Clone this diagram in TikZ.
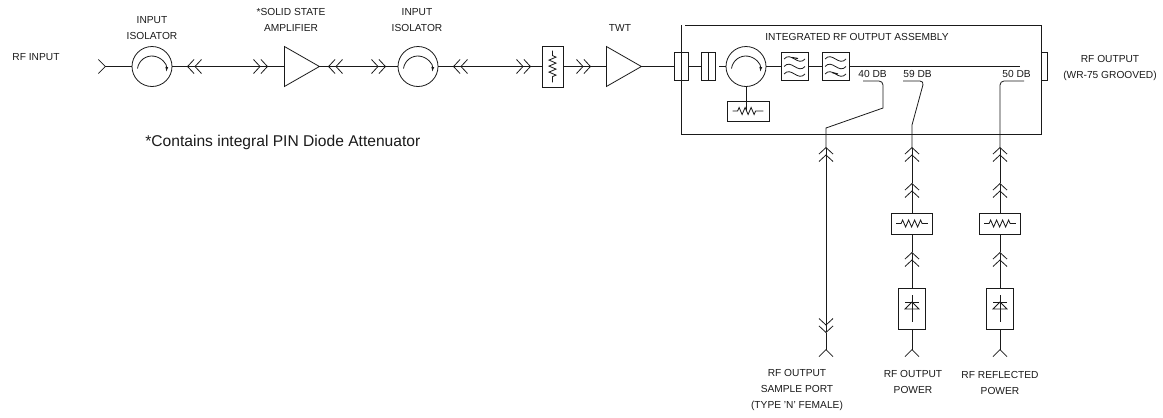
\documentclass[tikz,border=0pt]{standalone}
\usepackage{fontspec}
\setmainfont{Liberation Sans}
\usepackage{xcolor}
\usetikzlibrary{arrows.meta,positioning,calc,shapes.geometric,decorations.pathmorphing,decorations.pathreplacing}
\definecolor{tinta}{HTML}{1A1A1A}
\tikzset{
  dob/.tip={Straight Barb[length=6.5pt,width=14pt,sep=0pt] Straight Barb[length=6.5pt,width=14pt,sep=0pt]},
  uno/.tip={Straight Barb[length=7pt,width=14pt,reversed]}
}
\begin{document}
\begin{tikzpicture}[x=1pt,y=-1pt,line width=0.8pt,tinta,
  lab/.style={inner sep=0pt,align=center,font=\fontsize{10.2}{16}\selectfont},
  dbl/.style={inner sep=0pt,font=\fontsize{10.2}{10}\selectfont},
  circu/.style={draw,circle,inner sep=0pt,minimum size=40pt},
  amp/.style={draw,isosceles triangle,isosceles triangle stretches,inner sep=0pt,minimum width=40pt,minimum height=35pt,anchor=lower side},
  caja/.style={draw,rectangle,inner sep=0pt},
  resis/.style={decorate,decoration={zigzag,amplitude=3.5pt,segment length=6pt,pre length=5pt,post length=5pt}}]
  \useasboundingbox (0,0) rectangle (1163,418);

  % main line
  \coordinate (rfin) at (98,66.5);
  \foreach \n/\x in {iso1/152,iso2/418,cir/746} {
   \node[circu] (\n) at (\x,66.5) {};
   \draw[-{Latex[length=5pt,width=3pt]}] ([shift={(-14.5,2)}]\n.center) arc[radius=14.5pt,start angle=172,end angle=-6];
  }
  \node[amp] (ssa) at (284,66.5) {};
  \node[amp] (twt) at (606,66.5) {};
  \node[caja,minimum width=21pt,minimum height=41pt] (atn) at (552.5,66.5) {};
  \draw[resis] ([yshift=-5pt]atn.north) -- ([yshift=5pt]atn.south);
  \coordinate (j1) at (187,66.5); \coordinate (j2) at (268,66.5);
  \coordinate (j3) at (328,66.5); \coordinate (j4) at (386,66.5);
  \coordinate (j5) at (453,66.5); \coordinate (j6) at (531,66.5);
  \coordinate (j7) at (591,66.5);
  \draw[{uno}-] (rfin) -- (iso1);
  \draw (iso1) -- (j1); \draw[{dob}-{dob}] (j1) -- (j2); \draw (j2) -- (ssa.lower side);
  \draw (ssa.apex) -- (j3); \draw[{dob}-{dob}] (j3) -- (j4); \draw (j4) -- (iso2);
  \draw (iso2) -- (j5); \draw[{dob}-{dob}] (j5) -- (j6); \draw (j6) -- (atn);
  \draw[-{dob}] (atn) -- (j7); \draw (j7) -- (twt.lower side);

  % assembly
  \draw (685,25) -- (1041,25) -- (1041,134) -- (681,134) -- (681,25);
  \node[caja,minimum width=14pt,minimum height=28pt] (prt) at (681,66.5) {};
  \node[caja,minimum width=14pt,minimum height=28pt] (iso3) at (708,66.5) {};
  \draw (iso3.north) -- (iso3.south);
  \node[caja,minimum width=6pt,minimum height=28pt] (prt2) at (1044,66.5) {};
  \draw (twt.apex) -- (prt); \draw (prt) -- (iso3);
  \draw ([xshift=4pt]iso3.east) -- (cir);
  \node[caja,minimum width=27pt,minimum height=28pt] (fil1) at (794.5,66.5) {};
  \node[caja,minimum width=27pt,minimum height=28pt] (fil2) at (835.5,66.5) {};
  \foreach \f in {fil1,fil2} \foreach \d in {-7.5,0,7.5}
   \draw ([shift={(-10.5,\d)}]\f.center) .. controls +(7,-8) and +(-7,8) .. ([shift={(10.5,\d)}]\f.center);
  \draw[line width=1.1pt] (792,57.5) -- (798,58.5); \draw[line width=1.1pt] (832,72.5) -- (838,74);
  \coordinate (fin) at (1020,66.5);
  \draw (cir) -- (fil1); \draw (fil1) -- (fil2); \draw (fil2) -- (fin);
  \node[caja,minimum width=42pt,minimum height=20pt] (car) at (748,111) {};
  \draw (cir) -- (cir |- car.center);
  \draw[resis] ([xshift=6pt]car.west) -- ([xshift=-6pt]car.east);

  % couplers
  \node[dbl] at (872.5,74) {40 DB};
  \node[dbl] at (917.5,74) {59 DB};
  \node[dbl] at (1016.5,74) {50 DB};
  \coordinate (t40) at (863,81); \coordinate (t59) at (903,81); \coordinate (t50) at (1024,81);
  \coordinate (j40) at (826,147); \coordinate (j59) at (912,147); \coordinate (j50) at (1000,147);
  \draw (t40) [rounded corners=4pt] -- (883,81) [sharp corners] -- (883,108) -- (826,128) -- (j40);
  \draw (t59) [rounded corners=4pt] -- (924,81) [sharp corners] -- (912,125) -- (j59);
  \draw (t50) [rounded corners=4pt] -- (1000,81) [sharp corners] -- (j50);

  % sample port
  \coordinate (s1) at (826,333); \coordinate (s2) at (826,357);
  \draw[{dob}-{dob}] (j40) -- (s1);
  \draw[-{uno}] (s1) -- (s2);

  % power arms
  \foreach \n/\x in {a/912,b/1000} {
   \coordinate (c\n) at (\x,183); \coordinate (d\n) at (\x,252); \coordinate (e\n) at (\x,357);
   \node[caja,minimum width=41pt,minimum height=21pt] (pad\n) at (\x,223.5) {};
   \draw[resis] ([xshift=5pt]pad\n.west) -- ([xshift=-5pt]pad\n.east);
   \node[caja,minimum width=27pt,minimum height=41pt] (det\n) at (\x,308.5) {};
   \draw (\x,295) -- (\x,322);
   \draw (\x-7,302) -- (\x+7,302);
   \draw (\x,302) -- (\x-7,309) -- (\x+7,309) -- cycle;
   \draw[-{dob}] (c\n) -- (\x,147);
   \draw[-{dob}] (pad\n) -- (c\n);
   \draw (pad\n) -- (d\n);
   \draw[-{dob}] (det\n) -- (d\n);
   \draw[-{uno}] (det\n) -- (e\n);
  }

  % labels
  \node[lab] (t1) at (36,57) {RF INPUT};
  \node[lab] (t2) at (152,28.5) {INPUT\\ISOLATOR};
  \node[lab] (t3) at (291,20) {*SOLID STATE\\AMPLIFIER};
  \node[lab] (t4) at (417,20) {INPUT\\ISOLATOR};
  \node[lab] (t5) at (620,28) {TWT};
  \node[lab] (t6) at (857,37) {INTEGRATED RF OUTPUT ASSEMBLY};
  \node[lab] (t7) at (1110,67.5) {RF OUTPUT\\(WR-75 GROOVED)};
  \node[lab] (t8) at (797,390) {RF OUTPUT\\SAMPLE PORT\\(TYPE 'N' FEMALE)};
  \node[lab] (t9) at (913,382) {RF OUTPUT\\POWER};
  \node[lab] (t10) at (1000,383) {RF REFLECTED\\POWER};
  \node[inner sep=0pt,anchor=west,font=\fontsize{15.6}{18}\selectfont] (nota) at (145,142) {*Contains integral PIN Diode Attenuator};
\end{tikzpicture}
\end{document}
